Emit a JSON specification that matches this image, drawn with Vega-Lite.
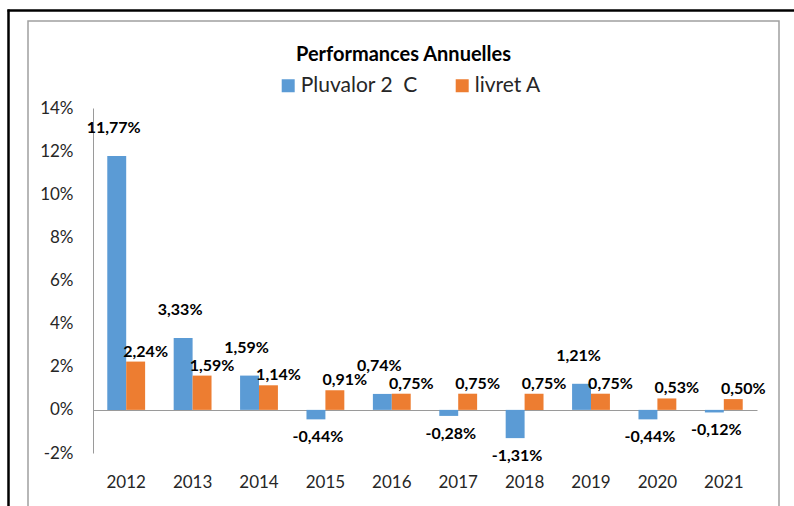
{
  "$schema": "https://vega.github.io/schema/vega-lite/v6.json",
  "width": 751,
  "height": 490,
  "autosize": {"type": "none"},
  "padding": {"left": 28, "top": 21, "right": 15, "bottom": 0},
  "background": "white",
  "config": {
    "font": "Lato",
    "view": {"stroke": "#a0a0a0", "strokeWidth": 1.5},
    "locale": {"number": {"decimal": ",", "thousands": " ", "grouping": [3], "currency": ["", " €"], "minus": "-", "percent": "%"}},
    "axis": {"grid": false, "ticks": false, "tickSize": 0}
  },
  "title": {
    "text": "Performances Annuelles",
    "anchor": "middle",
    "frame": "group",
    "fontSize": 20,
    "fontWeight": "bold",
    "font": "Lato",
    "color": "#000000",
    "baseline": "middle",
    "offset": 0,
    "dy": 65
  },
  "data": {
    "values": [
      {"year": "2012", "series": "Pluvalor 2\u00a0 C", "value": 0.1177},
      {"year": "2012", "series": "livret A", "value": 0.0224},
      {"year": "2013", "series": "Pluvalor 2\u00a0 C", "value": 0.0333},
      {"year": "2013", "series": "livret A", "value": 0.0159},
      {"year": "2014", "series": "Pluvalor 2\u00a0 C", "value": 0.0159},
      {"year": "2014", "series": "livret A", "value": 0.0114},
      {"year": "2015", "series": "Pluvalor 2\u00a0 C", "value": -0.0044},
      {"year": "2015", "series": "livret A", "value": 0.0091},
      {"year": "2016", "series": "Pluvalor 2\u00a0 C", "value": 0.0074},
      {"year": "2016", "series": "livret A", "value": 0.0075},
      {"year": "2017", "series": "Pluvalor 2\u00a0 C", "value": -0.0028},
      {"year": "2017", "series": "livret A", "value": 0.0075},
      {"year": "2018", "series": "Pluvalor 2\u00a0 C", "value": -0.0131},
      {"year": "2018", "series": "livret A", "value": 0.0075},
      {"year": "2019", "series": "Pluvalor 2\u00a0 C", "value": 0.0121},
      {"year": "2019", "series": "livret A", "value": 0.0075},
      {"year": "2020", "series": "Pluvalor 2\u00a0 C", "value": -0.0044},
      {"year": "2020", "series": "livret A", "value": 0.0053},
      {"year": "2021", "series": "Pluvalor 2\u00a0 C", "value": -0.0012},
      {"year": "2021", "series": "livret A", "value": 0.0050}
    ]
  },
  "layer": [
    {
      "encoding": {
        "x": {
          "field": "year",
          "type": "nominal",
          "scale": {"range": [65, 729], "paddingInner": 0.43, "paddingOuter": 0.215},
          "axis": {
            "orient": "bottom",
            "offset": -101,
            "title": null,
            "labelAngle": 0,
            "labelFontSize": 17,
            "labelColor": "#262626",
            "labelPadding": 64,
            "domainColor": "#9a9a9a",
            "domainWidth": 1
          }
        },
        "xOffset": {
          "field": "series",
          "type": "nominal",
          "scale": {"domain": ["Pluvalor 2\u00a0 C", "livret A"]}
        },
        "y": {
          "field": "value",
          "type": "quantitative",
          "scale": {"domain": [-0.02, 0.14], "range": [432, 87], "nice": false, "zero": false},
          "axis": {
            "orient": "left",
            "offset": -65,
            "title": null,
            "format": ".0%",
            "values": [-0.02, 0, 0.02, 0.04, 0.06, 0.08, 0.1, 0.12, 0.14],
            "labelFontSize": 17,
            "labelColor": "#262626",
            "labelPadding": 20,
            "domainColor": "#9a9a9a",
            "domainWidth": 1
          }
        }
      },
      "layer": [
        {
          "mark": {"type": "bar"},
          "encoding": {
            "color": {
              "field": "series",
              "type": "nominal",
              "scale": {"domain": ["Pluvalor 2\u00a0 C", "livret A"], "range": ["#5B9BD5", "#ED7D31"]},
              "legend": {
                "orient": "none",
                "legendX": 249.7,
                "legendY": 54,
                "direction": "horizontal",
                "title": null,
                "symbolType": "square",
                "symbolSize": 169,
                "symbolStrokeWidth": 0,
                "symbolOpacity": 1,
                "labelFontSize": 21,
                "labelFont": "Lato",
                "labelColor": "#262626",
                "columnPadding": 33,
                "labelOffset": 2,
                "padding": 0
              }
            }
          }
        },
        {
          "transform": [{"filter": "datum.series != 'livret A' && datum.value >= 0"}],
          "mark": {"type": "text", "baseline": "middle", "dy": -28, "dx": -3, "fontSize": 16, "fontWeight": "bold", "color": "#000000"},
          "encoding": {"text": {"field": "value", "type": "quantitative", "format": ".2%"}}
        },
        {
          "transform": [{"filter": "datum.series != 'livret A' && datum.value < 0"}],
          "mark": {"type": "text", "baseline": "middle", "dy": 18, "dx": 2, "fontSize": 16, "fontWeight": "bold", "color": "#000000"},
          "encoding": {"text": {"field": "value", "type": "quantitative", "format": ".2%"}}
        },
        {
          "transform": [{"filter": "datum.series == 'livret A'"}],
          "mark": {"type": "text", "baseline": "middle", "dy": -10, "dx": 10, "fontSize": 16, "fontWeight": "bold", "color": "#000000"},
          "encoding": {"text": {"field": "value", "type": "quantitative", "format": ".2%"}}
        }
      ]
    },
    {
      "mark": {"type": "point", "opacity": 0},
      "encoding": {
        "x": {
          "datum": 0,
          "type": "quantitative",
          "scale": {"domain": [0, 1], "range": [-21, 766], "nice": false, "zero": false},
          "axis": {"orient": "top", "offset": 11, "title": null, "labels": false, "ticks": false, "domainColor": "#000000", "domainWidth": 2.5}
        },
        "y": {
          "datum": 0,
          "type": "quantitative",
          "scale": {"domain": [0, 1], "range": [490, -12], "nice": false, "zero": false},
          "axis": {"orient": "left", "offset": 20, "title": null, "labels": false, "ticks": false, "domainColor": "#000000", "domainWidth": 2.5}
        }
      }
    }
  ],
  "resolve": {
    "scale": {"x": "independent", "y": "independent"},
    "axis": {"x": "independent", "y": "independent"}
  }
}
